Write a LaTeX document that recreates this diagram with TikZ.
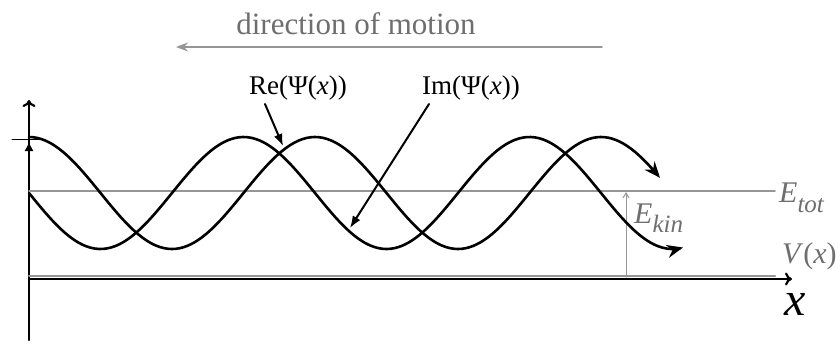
\documentclass[tikz,border=0pt]{standalone}
\usepackage{fontspec}
\setmainfont{Liberation Serif}
\usetikzlibrary{arrows.meta}
\definecolor{linegray}{RGB}{150,150,150}
\definecolor{textgray}{RGB}{110,110,110}
\newcommand{\fsz}[1]{\fontsize{#1}{#1}\selectfont}

\begin{document}
\begin{tikzpicture}[x=1pt,y=-1pt,>=Latex,line cap=round,
  wave/.style={line width=2.6pt,-{Stealth[length=16pt,width=13pt]}},
  pointer/.style={line width=2pt,-{Latex[length=12pt,width=9pt]}},
  label/.style={inner sep=0pt,anchor=base}]
  \useasboundingbox (0,0) rectangle (840,343);
  \node[label,textgray,font=\fsz{31}] (title) at (356,34) {direction of motion};
  \draw[linegray,line width=1.5pt,-{Stealth[length=12pt,width=9pt]}] (602,47) -- (176,47);
  \draw[line width=2.2pt,-{To[length=7pt,width=13pt]}] (29,340) -- (29,100);
  \draw[line width=1pt,-{Latex[length=9pt,width=9pt]}] (29,165) -- (29,142);
  \draw[line width=1pt] (12,139) -- (45,139);
  \draw[linegray,line width=1.5pt] (29,191) -- (775,191);
  \draw[linegray,line width=2pt] (29,276) -- (775,276);
  \draw[line width=2.2pt,-{To[length=7pt,width=13pt]}] (29,279) -- (792,279);
  \draw[linegray,line width=1pt,-{Straight Barb[length=5pt,width=6pt]}] (626,277) -- (626,192);
  \draw[wave] plot[domain=29:660,samples=160,smooth] (\x,{193-56*cos(1.25874*(\x-29))});
  \draw[wave] plot[domain=29:683,samples=160,smooth] (\x,{193+56*sin(1.25874*(\x-29))});
  \node[label,font=\fsz{27}] (relabel) at (298,94) {Re(Ψ(\textit{x}))};
  \node[label,font=\fsz{27}] (imlabel) at (471,94) {Im(Ψ(\textit{x}))};
  \coordinate (retail) at (265,104);
  \coordinate (retip) at (283,146);
  \coordinate (imtail) at (429,104);
  \coordinate (imtip) at (350,228);
  \draw[pointer] (retail) -- (retip);
  \draw[pointer] (imtail) -- (imtip);
  \node[label,anchor=base west,textgray,font=\fsz{30}] (etot) at (779,202) {\textit{E}\raisebox{-10pt}{\fsz{25}\textit{tot}}};
  \node[label,anchor=base west,textgray,font=\fsz{30}] (ekin) at (634,223) {\textit{E}\raisebox{-9pt}{\fsz{25}\textit{kin}}};
  \node[label,anchor=base west,textgray,font=\fsz{30}] (vlabel) at (782,263) {\textit{V}(\textit{x})};
  \node[label,font=\fsz{48}\itshape] (xlabel) at (795,315) {x};
\end{tikzpicture}
\end{document}
